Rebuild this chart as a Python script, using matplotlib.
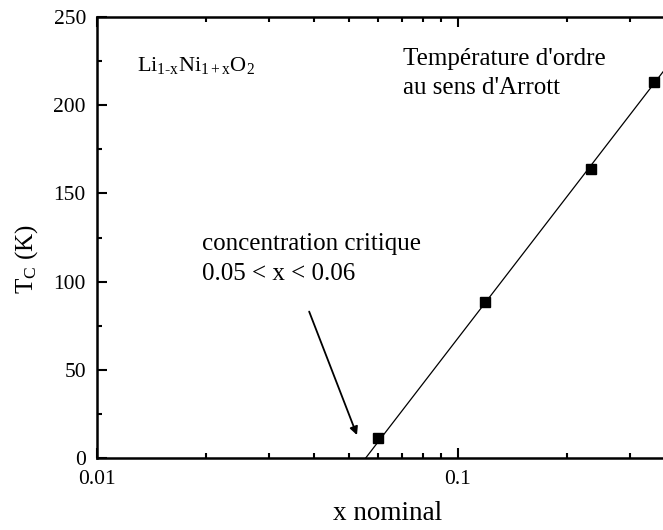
import numpy as np
import matplotlib
matplotlib.use("Agg")
import matplotlib.pyplot as plt
from matplotlib.ticker import FixedLocator, FixedFormatter, MultipleLocator, LogLocator, NullFormatter

plt.rcParams['font.family'] = ['Liberation Serif', 'DejaVu Serif']
plt.rcParams['mathtext.fontset'] = 'custom'
plt.rcParams['mathtext.rm'] = 'Liberation Serif'
plt.rcParams['mathtext.it'] = 'Liberation Serif:italic'

# measured points (Arrott ordering temperature)
x_nominal = [0.060, 0.119, 0.233, 0.349]
tc_kelvin = [11.3, 88.4, 163.8, 213.0]

# straight line drawn through the points (log x scale)
fit_x = [0.0555, 0.40]
fit_t = [0.0, 228.0]

# arrow pointing to the critical concentration
arrow_tail = (0.0387, 83.0)
arrow_head = (0.0525, 13.0)

x_ticks = [0.01, 0.1]
x_tick_labels = ['0.01', '0.1']

fig = plt.figure(figsize=(6.63, 5.30), dpi=100)
# axes goes on past the right border, like the cropped original
ax = fig.add_axes([97 / 663, 72 / 530, 722 / 663, 441 / 530])

ax.plot(fit_x, fit_t, color='black', lw=0.9)
ax.plot(x_nominal, tc_kelvin, 's', color='black', ms=7.5)

ax.set_xscale('log')
ax.set_xlim(0.01, 1)
ax.set_ylim(0, 250)

ax.xaxis.set_major_locator(FixedLocator(x_ticks))
ax.xaxis.set_major_formatter(FixedFormatter(x_tick_labels))
ax.xaxis.set_minor_locator(LogLocator(base=10, subs=np.arange(2, 10)))
ax.xaxis.set_minor_formatter(NullFormatter())
ax.yaxis.set_major_locator(MultipleLocator(50))
ax.yaxis.set_minor_locator(MultipleLocator(25))

ax.tick_params(which='both', direction='in', top=True, right=True, width=1.5, labelsize=15.5)
ax.tick_params(which='major', length=7)
ax.tick_params(which='minor', length=3.5)
ax.tick_params(axis='x', pad=9)
ax.tick_params(axis='y', pad=8)
for s in ax.spines.values():
    s.set_linewidth(1.8)

ax.text(0.0129, 219.4, r'Li$_{\mathrm{1\text{-}x}}$Ni$_{\mathrm{1+x}}$O$_{\mathrm{2}}$',
        fontsize=16, va='baseline', ha='left')
ax.text(0.0705, 222.8, "Température d'ordre", fontsize=18, va='baseline', ha='left')
ax.text(0.0705, 206.3, "au sens d'Arrott", fontsize=18, va='baseline', ha='left')
ax.text(0.01954, 117.9, 'concentration critique', fontsize=18, va='baseline', ha='left')
ax.text(0.01954, 100.9, '0.05 < x < 0.06', fontsize=18, va='baseline', ha='left')

ax.annotate('', xy=arrow_head, xytext=arrow_tail,
            arrowprops=dict(arrowstyle='-|>', color='black', lw=1.3,
                            mutation_scale=12, shrinkA=0, shrinkB=0))

fig.text(387.5 / 663, 1 - 520 / 530, 'x nominal', fontsize=19.5, ha='center', va='baseline')
fig.text(27 / 663, 1 - 259 / 530, r'T$_{\mathrm{C}}$ (K)', fontsize=18,
         ha='center', va='center', rotation=90)

fig.savefig('out.png', dpi=100)
